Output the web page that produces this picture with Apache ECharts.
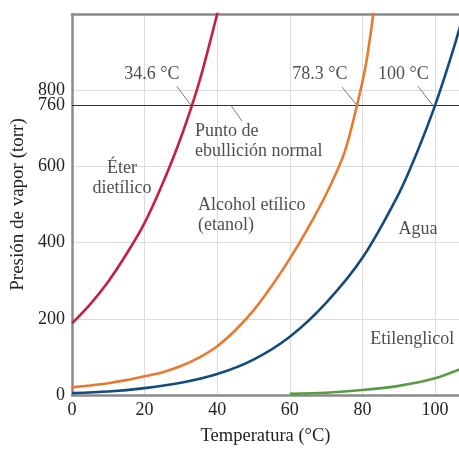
<!DOCTYPE html>
<html><head><meta charset="utf-8">
<script src="https://cdn.jsdelivr.net/npm/echarts@6/dist/echarts.min.js"></script>
<style>html,body{margin:0;padding:0;background:#fff}#c{width:459px;height:451px}</style>
</head><body><div id="c"></div>
<script>
// ---- data ----
const etherT   = [0, 5, 10, 15, 20, 25, 30, 35, 40, 41];
const etherP   = [188, 238, 298, 370, 452, 556, 676, 820, 1000, 1040];
const ethanolT = [0, 5, 10, 15, 20, 25, 30, 35, 40, 45, 50, 55, 60, 65, 70, 75, 78.5, 81, 83, 84];
const ethanolP = [20, 25, 31, 39, 49, 60, 76, 98, 128, 170, 222, 286, 358, 438, 527, 635, 760, 870, 1000, 1070];
const waterT   = [0, 10, 20, 30, 40, 50, 60, 70, 80, 90, 95, 100, 105, 108];
const waterP   = [5, 9, 18, 32, 55, 93, 153, 242, 360, 528, 636, 760, 906, 1004];
const glycolT  = [60, 70, 80, 90, 100, 108];
const glycolP  = [3, 6, 13, 24, 44, 72];
const yTickLabels = [0, 200, 400, 600, 800];
const normalBoilingP = 760;
// annotation texts [x, y, text, align]
const annotations = [
  [22.0, 841, '34.6 °C', 'center'],
  [68.3, 841, '78.3 °C', 'center'],
  [91.3, 841, '100 °C', 'center'],
  [33.9, 665, 'Punto de\nebullición normal', 'left'],
  [13.8, 569, 'Éter\ndietílico', 'center'],
  [34.7, 473, 'Alcohol etílico\n(etanol)', 'left'],
  [95.3, 436, 'Agua', 'center'],
  [93.7, 145, 'Etilenglicol', 'center']
];
// leader lines [[x1,y1],[x2,y2]]
const leaders = [
  [[28.9, 810], [32.8, 760]],
  [[74.4, 808], [78.5, 760]],
  [[95.3, 810], [99.4, 760]],
  [[46.8, 719], [43.8, 760]]
];

const FONT = '"Liberation Serif", "DejaVu Serif", serif';
const TXT = '#222';
const zip = (a, b) => a.map((v, i) => [v, b[i]]);

const chart = echarts.init(document.getElementById('c'), null, {renderer: 'canvas'});
function curve(name, xs, ys, color) {
  return {name, type: 'line', data: zip(xs, ys), smooth: 0.3, showSymbol: false, symbol: 'none',
    lineStyle: {color, width: 2.6}, clip: true, z: 5};
}
const yBase = {type: 'value', min: 0, max: 1000, interval: 200};
chart.setOption({
  animation: false,
  grid: {left: 72, right: 0, top: 14, bottom: 52},
  xAxis: [{
    type: 'value', min: 0, max: 106.6, interval: 20,
    name: 'Temperatura (°C)', nameLocation: 'middle', nameGap: 32,
    nameTextStyle: {fontFamily: FONT, fontSize: 18.5, color: TXT},
    axisLine: {lineStyle: {color: '#8a8a8a', width: 2.5}},
    axisTick: {show: false},
    axisLabel: {fontFamily: FONT, fontSize: 18, color: TXT, margin: 6, showMaxLabel: false},
    splitLine: {show: true, lineStyle: {color: '#dcdcdc', width: 1}}
  }, {
    type: 'value', min: 0, max: 106.6, position: 'top',
    axisLine: {show: true, onZero: false, lineStyle: {color: '#8a8a8a', width: 2.5}},
    axisTick: {show: false}, axisLabel: {show: false}, splitLine: {show: false}
  }],
  yAxis: [Object.assign({}, yBase, {
    name: 'Presión de vapor (torr)', nameLocation: 'middle', nameGap: 42, nameRotate: 90,
    nameTextStyle: {fontFamily: FONT, fontSize: 19, color: TXT},
    axisLine: {show: true, onZero: false, lineStyle: {color: '#8a8a8a', width: 2.5}},
    axisTick: {show: false},
    axisLabel: {fontFamily: FONT, fontSize: 18, color: TXT, margin: 7, customValues: yTickLabels, hideOverlap: false},
    splitLine: {show: true, lineStyle: {color: '#dcdcdc', width: 1}}
  }), Object.assign({}, yBase, {
    position: 'left',
    axisLine: {show: false}, axisTick: {show: false}, splitLine: {show: false},
    axisLabel: {fontFamily: FONT, fontSize: 18, color: TXT, margin: 7, customValues: [normalBoilingP]}
  })],
  series: [
    {
      type: 'line', data: [], silent: true,
      markLine: {
        silent: true, symbol: 'none', animation: false,
        label: {show: false},
        data: [{yAxis: normalBoilingP, lineStyle: {color: '#333', width: 1, type: 'solid'}}]
          .concat(leaders.map(l => [{coord: l[0], lineStyle: {color: '#555', width: 0.8, type: 'solid'}}, {coord: l[1]}]))
      }
    },
    curve('Éter dietílico', etherT, etherP, '#c61f3f'),
    curve('Alcohol etílico', ethanolT, ethanolP, '#e8792e'),
    curve('Agua', waterT, waterP, '#154b7c'),
    curve('Etilenglicol', glycolT, glycolP, '#5c9a45'),
    {
      type: 'scatter', symbolSize: 0, silent: true, z: 10,
      data: annotations.map(a => ({
        value: [a[0], a[1]],
        label: {
          show: true, formatter: a[2],
          position: a[3] === 'left' ? 'right' : 'inside',
          distance: 0,
          align: a[3], verticalAlign: 'middle',
          fontFamily: FONT, fontSize: 18, color: TXT, lineHeight: 20
        }
      }))
    }
  ]
});
</script></body></html>
